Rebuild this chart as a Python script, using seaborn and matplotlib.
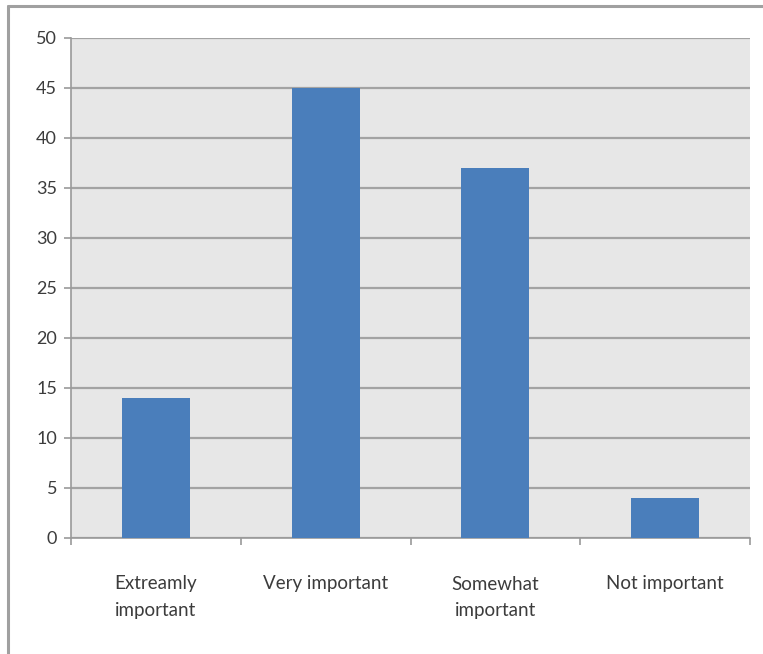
import matplotlib
matplotlib.use("Agg")
import matplotlib.pyplot as plt
from matplotlib.lines import Line2D
import seaborn as sns
import pandas as pd

categories = ["Extreamly\nimportant", "Very important", "Somewhat\nimportant", "Not important"]
values = [14, 45, 37, 4]
yticks = [0, 5, 10, 15, 20, 25, 30, 35, 40, 45, 50]

df = pd.DataFrame({"category": categories, "value": values})

sns.set_theme(style="white")
plt.rcParams["font.family"] = ["Lato", "DejaVu Sans"]

fig = plt.figure(figsize=(7.63, 6.54), dpi=100)
ax = fig.add_axes([71/763, 1-538/654, (750-71)/763, (538-38)/654])
ax.set_facecolor("#e7e7e7")

sns.barplot(data=df, x="category", y="value", color="#4a7ebb", width=0.4,
            saturation=1, linewidth=0, ax=ax, zorder=3)

ax.set_ylim(0, 50)
ax.set_xlim(-0.5, 3.5)
ax.set_yticks(yticks)
ax.set_xlabel("")
ax.set_ylabel("")
ax.yaxis.grid(True, color="#a3a3a3", linewidth=1.6, zorder=0)
ax.set_axisbelow(True)
for s in ["top", "right"]:
    ax.spines[s].set_visible(False)
for s in ["left", "bottom"]:
    ax.spines[s].set_color("#9a9a9a")
    ax.spines[s].set_linewidth(1.2)

ax.set_xticks([-0.5, 0.5, 1.5, 2.5, 3.5], minor=True)
ax.tick_params(axis="x", which="major", length=0, pad=27, labelsize=13.5, labelcolor="#3c3c3c")
ax.tick_params(axis="x", which="minor", length=5, width=1.2, color="#9a9a9a", direction="out", bottom=True)
ax.tick_params(axis="y", length=5, width=1.2, color="#9a9a9a", direction="out", left=True,
               labelsize=13, labelcolor="#3c3c3c", pad=5)
for lbl in ax.get_xticklabels():
    lbl.set_verticalalignment("top")
    lbl.set_linespacing(1.65)

fig.add_artist(Line2D([8/763, 1.0], [1-6/654, 1-6/654], transform=fig.transFigure,
                      color="#a0a0a0", linewidth=2.2))
fig.add_artist(Line2D([8/763, 8/763], [1-6/654, 0.0], transform=fig.transFigure,
                      color="#a0a0a0", linewidth=2.2))

fig.savefig("out.png", dpi=100)
